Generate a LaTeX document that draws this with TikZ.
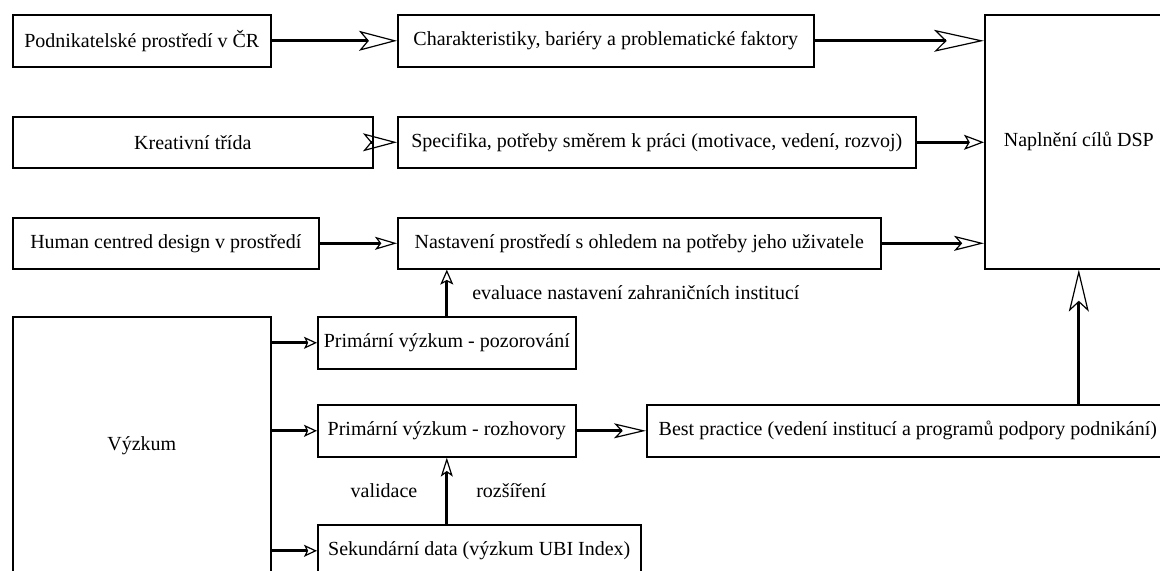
\documentclass[tikz,border=0pt]{standalone}
\usepackage{fontspec}
\setmainfont{Liberation Serif}
\usepackage{tikz}
\usetikzlibrary{arrows.meta,positioning}

\tikzset{
	box/.style={draw, line width=0.8pt, anchor=north west, inner sep=0pt, align=center},
	arr/.style 2 args={line width=1.5pt, -{Stealth[open, length=#1, width=#2, inset=0.22*#1, line width=0.6pt]}},
	lbl/.style={inner sep=0pt}
}

\begin{document}
\begin{tikzpicture}[x=0.5pt,y=-0.5pt,font=\rmfamily\fontsize{10}{12}\selectfont]
	\useasboundingbox (0,0) rectangle (1160,571);
	\clip (0,0) rectangle (1160,571);
	% first column
	\node[box, minimum width=129pt, minimum height=26pt] (pod) at (12,14) {Podnikatelské prostředí v ČR};
	\node[box, minimum width=180pt, minimum height=25.5pt] (kre) at (12,116) {Kreativní třída};
	\node[box, minimum width=153pt, minimum height=25.5pt] (hcd) at (12,217) {Human centred design v prostředí};
	\node[box, minimum width=129pt, minimum height=129pt] (vyz) at (12,316) {Výzkum};
	% second column
	\node[box, minimum width=208pt, minimum height=26pt] (char) at (397,14) {Charakteristiky, bariéry a problematické faktory};
	\node[box, minimum width=259pt, minimum height=25.5pt] (spec) at (397,116) {Specifika, potřeby směrem k práci (motivace, vedení, rozvoj)};
	\node[box, minimum width=241.5pt, minimum height=25.5pt] (nast) at (397,217) {Nastavení prostředí s ohledem na potřeby jeho uživatele};
	\node[box, minimum width=129pt, minimum height=26pt] (poz) at (317,316) {Primární výzkum - pozorování};
	\node[box, minimum width=129pt, minimum height=26pt] (roz) at (317,404) {Primární výzkum - rozhovory};
	\node[box, minimum width=161.5pt, minimum height=26pt] (sek) at (317,524) {Sekundární data (výzkum UBI Index)};
	% right side
	\node[box, minimum width=261pt, minimum height=26pt] (best) at (646,404) {Best practice (vedení institucí a programů podpory podnikání)};
	\node[box, minimum width=94pt, minimum height=127pt] (napl) at (984,14) {Naplnění cílů DSP};
	% connectors
	\draw[arr={19pt}{10pt}] (pod.east) -- (char.west);
	\draw[arr={25pt}{11pt}] (char.east) -- (char.east -| napl.west);
	\draw[arr={17pt}{9pt}] (kre.east) -- (spec.west);
	\draw[arr={10pt}{7.5pt}] (spec.east) -- (spec.east -| napl.west);
	\draw[arr={11pt}{6.5pt}] (hcd.east) -- (nast.west);
	\draw[arr={15pt}{7.5pt}] (nast.east) -- (nast.east -| napl.west);
	\draw[arr={7.5pt}{6.5pt}] (poz.north) -- (poz.north |- nast.south)
		node[lbl, midway, right=12pt] {evaluace nastavení zahraničních institucí};
	\draw[arr={6.5pt}{6pt}] (vyz.east |- poz.west) -- (poz.west);
	\draw[arr={6.5pt}{6pt}] (vyz.east |- roz.west) -- (roz.west);
	\draw[arr={6.5pt}{6pt}] (vyz.east |- sek.west) -- (sek.west);
	\draw[arr={16pt}{7.5pt}] (roz.east) -- (best.west);
	\draw[arr={9.5pt}{6pt}] (roz.south |- sek.north) -- (roz.south)
		node[lbl, midway, left=14pt] {validace}
		node[lbl, midway, right=14pt] {rozšíření};
	\draw[arr={21pt}{10pt}] (napl.south |- best.north) -- (napl.south);
\end{tikzpicture}
\end{document}
